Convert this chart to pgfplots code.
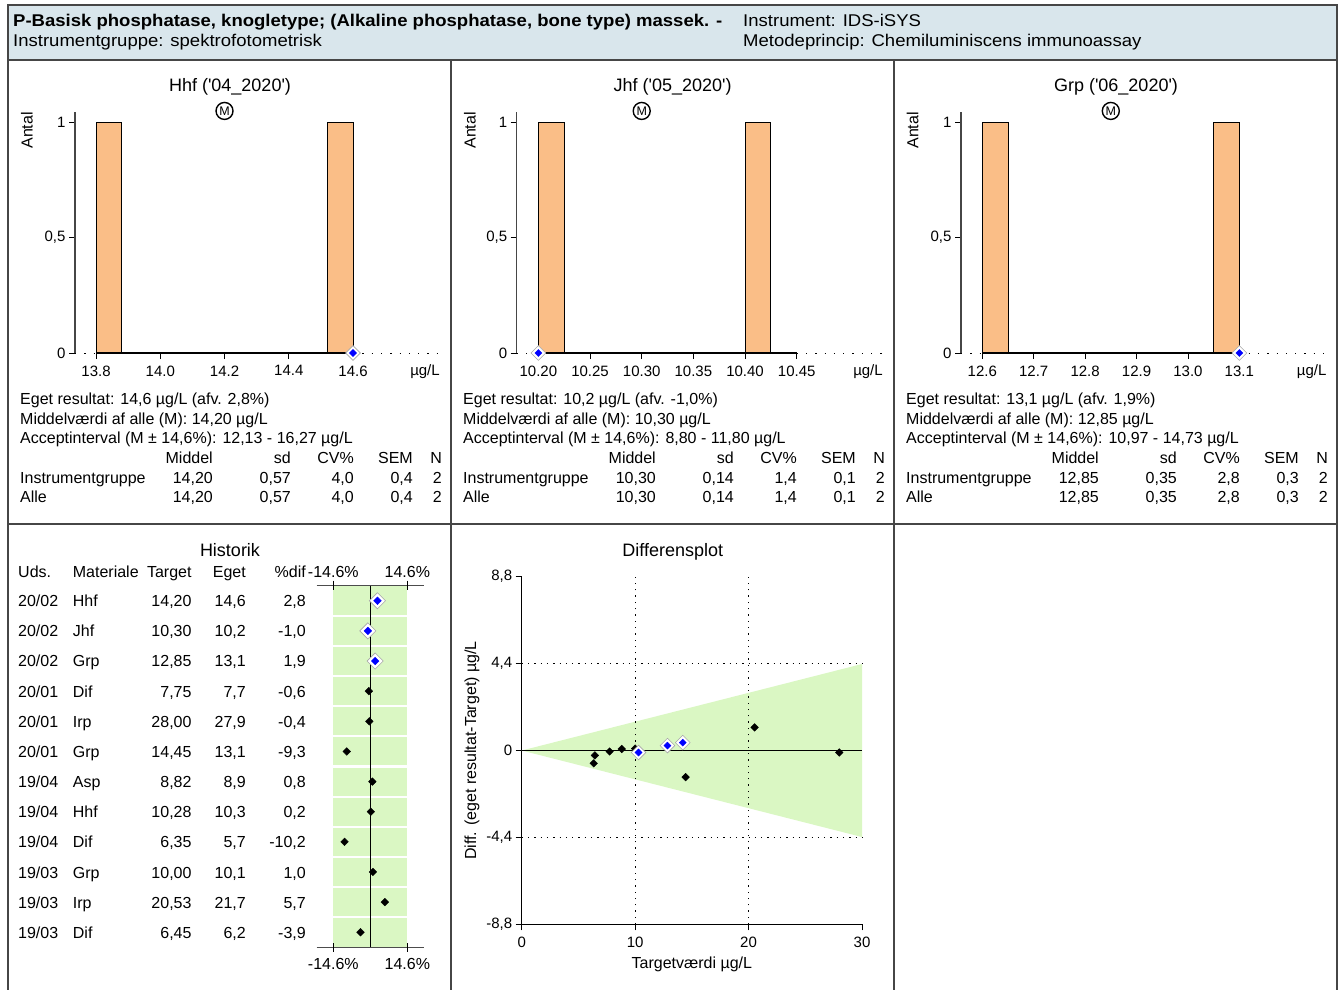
\documentclass[border=0pt]{standalone}
\usepackage{fontspec}
\setmainfont{Liberation Sans}
\newfontfamily\hdrfont[FakeStretch=1.09]{Liberation Sans}
\usepackage{pgfplots}
\pgfplotsset{compat=1.18}
\definecolor{hdr}{RGB}{217,230,236}
\definecolor{barc}{RGB}{250,190,135}
\definecolor{okgreen}{RGB}{218,247,195}
\definecolor{bord}{RGB}{70,70,70}
\definecolor{ownblue}{RGB}{0,0,255}
\newcommand{\txt}{\fontsize{16}{19}\selectfont}
\newcommand{\htxt}{\hdrfont\fontsize{17}{20}\selectfont}
\newcommand{\ttl}{\fontsize{18}{21}\selectfont}
\newcommand{\tck}{\fontsize{15}{15}\selectfont}
\pgfplotsset{
  hist/.style={scale only axis, anchor=south west, clip=false,
    axis lines*=left, axis line style={draw=none},
    tick align=outside, major tick length=6pt, tick style={black, line width=0.8pt},
    ymin=0, ymax=1.043, ytick={0,0.5,1}, yticklabels={0,{0,5},1},
    ticklabel style={font=\tck}, xticklabel style={yshift=-3pt}, height=241pt},
  ownout/.style={only marks, mark=square*, mark size=5.2pt,
    mark options={rotate=45, fill=white, draw=gray!70, line width=0.6pt}},
  ownin/.style={only marks, mark=square*, mark size=2.5pt,
    mark options={rotate=45, fill=ownblue, draw=ownblue}},
  other/.style={only marks, mark=square*, mark size=2.7pt,
    mark options={rotate=45, fill=black, draw=black}},
  barst/.style={fill=barc, draw=black, line width=0.8pt},
}
\newcommand{\stats}[9]{%
\begin{scope}[xshift=#1pt]
\node[anchor=base west,inner sep=0,font=\txt] at (20,404.5) {Eget resultat: #2};
\node[anchor=base west,inner sep=0,font=\txt] at (20,424) {Middelværdi af alle (M): #3};
\node[anchor=base west,inner sep=0,font=\txt] at (20,443.5) {Acceptinterval (M ± 14,6\%): #4};
\node[anchor=base east,inner sep=0,font=\txt] at (213,463.5) {Middel};
\node[anchor=base east,inner sep=0,font=\txt] at (291,463.5) {sd};
\node[anchor=base east,inner sep=0,font=\txt] at (354,463.5) {CV\%};
\node[anchor=base east,inner sep=0,font=\txt] at (413,463.5) {SEM};
\node[anchor=base east,inner sep=0,font=\txt] at (442,463.5) {N};
\foreach \yy/\nm in {483/Instrumentgruppe,502.5/Alle}{
\node[anchor=base west,inner sep=0,font=\txt] at (20,\yy) {\nm};
\node[anchor=base east,inner sep=0,font=\txt] at (213,\yy) {#5};
\node[anchor=base east,inner sep=0,font=\txt] at (291,\yy) {#6};
\node[anchor=base east,inner sep=0,font=\txt] at (354,\yy) {#7};
\node[anchor=base east,inner sep=0,font=\txt] at (413,\yy) {#8};
\node[anchor=base east,inner sep=0,font=\txt] at (442,\yy) {#9};
}
\end{scope}}
\newcommand{\hrow}[6]{%
\node[anchor=base west,inner sep=0,font=\txt] at (18,#1) {#2};
\node[anchor=base west,inner sep=0,font=\txt] at (72.7,#1) {#3};
\node[anchor=base east,inner sep=0,font=\txt] at (191.7,#1) {#4};
\node[anchor=base east,inner sep=0,font=\txt] at (246,#1) {#5};
\node[anchor=base east,inner sep=0,font=\txt] at (306,#1) {#6};}
\newcommand{\mcirc}{\tikz[baseline=(m.base)]\node[circle,draw,line width=1.4pt,inner sep=0pt,minimum size=17pt,font=\fontsize{12.5}{12.5}\selectfont](m){M};}
\begin{document}
\begin{tikzpicture}
\path[use as bounding box] (0,0) rectangle (1341pt,-990pt);
\begin{scope}[x=1pt,y=-1pt]
 % frame
 \fill[hdr] (8,5) rectangle (1337,60);
 \draw[bord, line width=1.3pt] (8,5) rectangle (1337,992);
 \draw[bord, line width=1.3pt] (8,60) -- (1337,60);
 \draw[bord, line width=1.3pt] (451,60) -- (451,992);
 \draw[bord, line width=1.3pt] (894,60) -- (894,992);
 \draw[bord, line width=1.3pt] (8,524) -- (1337,524);
 % header
 \node[anchor=base west,inner sep=0,font=\htxt\bfseries] at (13,27) {P-Basisk phosphatase, knogletype; (Alkaline phosphatase, bone type) massek. -};
 \node[anchor=base west,inner sep=0,font=\htxt] at (13,47) {Instrumentgruppe: spektrofotometrisk};
 \node[anchor=base west,inner sep=0,font=\htxt] at (743,27) {Instrument: IDS-iSYS};
 \node[anchor=base west,inner sep=0,font=\htxt] at (743,47) {Metodeprincip: Chemiluminiscens immunoassay};
 % histogram titles and labels
 \node[anchor=base,inner sep=0,font=\ttl] at (230,91.5) {Hhf (\textquotesingle 04\_2020\textquotesingle)};
 \node[anchor=base,inner sep=0,font=\ttl] at (672.7,91.5) {Jhf (\textquotesingle 05\_2020\textquotesingle)};
 \node[anchor=base,inner sep=0,font=\ttl] at (1116,91.5) {Grp (\textquotesingle 06\_2020\textquotesingle)};
 \node[rotate=90,anchor=east,inner sep=0,font=\txt] at (27,112) {Antal};
 \node[rotate=90,anchor=east,inner sep=0,font=\txt] at (470,112) {Antal};
 \node[rotate=90,anchor=east,inner sep=0,font=\txt] at (912.7,112) {Antal};
 \node[anchor=base,inner sep=0,font=\tck] at (425,375.5) {µg/L};
 \node[anchor=base,inner sep=0,font=\tck] at (868,375.5) {µg/L};
 \node[anchor=base,inner sep=0,font=\tck] at (1311.7,375.5) {µg/L};
 % stats blocks
 \stats{0}{14,6 µg/L (afv. 2,8\%)}{14,20 µg/L}{12,13 - 16,27 µg/L}{14,20}{0,57}{4,0}{0,4}{2}
 \stats{443}{10,2 µg/L (afv. -1,0\%)}{10,30 µg/L}{8,80 - 11,80 µg/L}{10,30}{0,14}{1,4}{0,1}{2}
 \stats{886}{13,1 µg/L (afv. 1,9\%)}{12,85 µg/L}{10,97 - 14,73 µg/L}{12,85}{0,35}{2,8}{0,3}{2}
 % Historik table
 \node[anchor=base,inner sep=0,font=\ttl] at (230,556.5) {Historik};
 \node[anchor=base west,inner sep=0,font=\txt] at (18,577) {Uds.};
 \node[anchor=base west,inner sep=0,font=\txt] at (72.7,577) {Materiale};
 \node[anchor=base east,inner sep=0,font=\txt] at (191.7,577) {Target};
 \node[anchor=base east,inner sep=0,font=\txt] at (246,577) {Eget};
 \node[anchor=base east,inner sep=0,font=\txt] at (306,577) {\%dif};
 \node[anchor=base,inner sep=0,font=\txt] at (333.3,577) {-14.6\%};
 \node[anchor=base,inner sep=0,font=\txt] at (407.3,577) {14.6\%};
 \node[anchor=base,inner sep=0,font=\txt] at (333.3,969) {-14.6\%};
 \node[anchor=base,inner sep=0,font=\txt] at (407.3,969) {14.6\%};
 \hrow{606.5}{20/02}{Hhf}{14,20}{14,6}{2,8}
 \hrow{636.7}{20/02}{Jhf}{10,30}{10,2}{-1,0}
 \hrow{666.9}{20/02}{Grp}{12,85}{13,1}{1,9}
 \hrow{697.0}{20/01}{Dif}{7,75}{7,7}{-0,6}
 \hrow{727.2}{20/01}{Irp}{28,00}{27,9}{-0,4}
 \hrow{757.4}{20/01}{Grp}{14,45}{13,1}{-9,3}
 \hrow{787.6}{19/04}{Asp}{8,82}{8,9}{0,8}
 \hrow{817.8}{19/04}{Hhf}{10,28}{10,3}{0,2}
 \hrow{847.9}{19/04}{Dif}{6,35}{5,7}{-10,2}
 \hrow{878.1}{19/03}{Grp}{10,00}{10,1}{1,0}
 \hrow{908.3}{19/03}{Irp}{20,53}{21,7}{5,7}
 \hrow{938.5}{19/03}{Dif}{6,45}{6,2}{-3,9}
 \node[anchor=base,inner sep=0,font=\ttl] at (672.7,556.5) {Differensplot};
\end{scope}

% ---------- Histogram 1
\begin{axis}[hist, at={(75pt,-353pt)}, width=367pt, xmin=13.7346, xmax=14.877,
  xtick={13.8,14.0,14.2,14.4,14.6}, xticklabels={13.8,14.0,14.2,14.4,14.6}]
\addplot[barst] coordinates {(13.8,0) (13.8,1) (13.88,1) (13.88,0)} --cycle;
\addplot[barst] coordinates {(14.52,0) (14.52,1) (14.6,1) (14.6,0)} --cycle;
\draw[bord, line width=1.3pt] (axis cs:13.7346,0) -- (axis cs:13.7346,1.043);
\draw[black, line width=1.6pt] (axis cs:13.8,0) -- (axis cs:14.6,0);
\draw[black, line width=1pt, dash pattern=on 1.3pt off 8pt] (axis cs:14.6,0) -- (axis cs:14.877,0);
\draw[black, line width=1pt, dash pattern=on 1.3pt off 8pt] (axis cs:13.7346,0) -- (axis cs:13.8,0);
\addplot[ownout] coordinates {(14.6,0)};
\addplot[ownin] coordinates {(14.6,0)};
\node[inner sep=0] at (axis cs:14.2,1.0476) {\mcirc};
\end{axis}

% ---------- Histogram 2
\begin{axis}[hist, at={(516.7pt,-353pt)}, width=368.3pt, xmin=10.179, xmax=10.5355,
  xtick={10.20,10.25,10.30,10.35,10.40,10.45}, xticklabels={10.20,10.25,10.30,10.35,10.40,10.45}]
\addplot[barst] coordinates {(10.20,0) (10.20,1) (10.225,1) (10.225,0)} --cycle;
\addplot[barst] coordinates {(10.40,0) (10.40,1) (10.425,1) (10.425,0)} --cycle;
\draw[bord, line width=1.3pt] (axis cs:10.179,0) -- (axis cs:10.179,1.043);
\draw[black, line width=1.6pt] (axis cs:10.20,0) -- (axis cs:10.45,0);
\draw[black, line width=1pt, dash pattern=on 1.3pt off 8pt] (axis cs:10.45,0) -- (axis cs:10.5355,0);
\draw[black, line width=1pt, dash pattern=on 1.3pt off 8pt] (axis cs:10.179,0) -- (axis cs:10.20,0);
\addplot[ownout] coordinates {(10.20,0)};
\addplot[ownin] coordinates {(10.20,0)};
\node[inner sep=0] at (axis cs:10.30,1.0476) {\mcirc};
\end{axis}

% ---------- Histogram 3
\begin{axis}[hist, at={(961pt,-353pt)}, width=365.7pt, xmin=12.5586, xmax=13.270,
  xtick={12.6,12.7,12.8,12.9,13.0,13.1}, xticklabels={12.6,12.7,12.8,12.9,13.0,13.1}]
\addplot[barst] coordinates {(12.6,0) (12.6,1) (12.65,1) (12.65,0)} --cycle;
\addplot[barst] coordinates {(13.05,0) (13.05,1) (13.1,1) (13.1,0)} --cycle;
\draw[bord, line width=1.3pt] (axis cs:12.5586,0) -- (axis cs:12.5586,1.043);
\draw[black, line width=1.6pt] (axis cs:12.6,0) -- (axis cs:13.1,0);
\draw[black, line width=1pt, dash pattern=on 1.3pt off 8pt] (axis cs:13.1,0) -- (axis cs:13.270,0);
\draw[black, line width=1pt, dash pattern=on 1.3pt off 8pt] (axis cs:12.5586,0) -- (axis cs:12.6,0);
\addplot[ownout] coordinates {(13.1,0)};
\addplot[ownin] coordinates {(13.1,0)};
\node[inner sep=0] at (axis cs:12.85,1.0476) {\mcirc};
\end{axis}

% ---------- Historik strip
\begin{axis}[scale only axis, anchor=south west, at={(316.7pt,-947.3pt)},
  width=107.3pt, height=361.6pt, xmin=-21.17, xmax=21.17, ymin=0.5, ymax=12.5,
  y dir=reverse, hide axis, clip=false]
\fill[okgreen] (axis cs:-14.6,0.5) rectangle (axis cs:14.6,12.5);
\foreach \k in {1.5,2.5,3.5,4.5,5.5,6.5,7.5,8.5,9.5,10.5,11.5}{
  \edef\tmp{\noexpand\draw[white, line width=2.2pt] (axis cs:-14.6,\k) -- (axis cs:14.6,\k);}\tmp}
\draw[gray!60!black, line width=1.5pt] (axis cs:-21.17,0.5) -- (axis cs:21.17,0.5);
\draw[gray!60!black, line width=1.5pt] (axis cs:-21.17,12.5) -- (axis cs:21.17,12.5);
\draw[black, line width=1pt] ([yshift=5pt]axis cs:-14.6,0.5) -- ([yshift=-4pt]axis cs:-14.6,0.5);
\draw[black, line width=1pt] ([yshift=5pt]axis cs:14.6,0.5) -- ([yshift=-4pt]axis cs:14.6,0.5);
\draw[black, line width=1pt] ([yshift=4pt]axis cs:-14.6,12.5) -- ([yshift=-5pt]axis cs:-14.6,12.5);
\draw[black, line width=1pt] ([yshift=4pt]axis cs:14.6,12.5) -- ([yshift=-5pt]axis cs:14.6,12.5);
\draw[black, line width=1.2pt] (axis cs:0,0.5) -- (axis cs:0,12.5);
\addplot[other] coordinates {(-0.6,4) (-0.4,5) (-9.3,6) (0.8,7) (0.2,8) (-10.2,9) (1.0,10) (5.7,11) (-3.9,12)};
\addplot[ownout, mark size=5.7pt] coordinates {(2.8,1) (-1.0,2) (1.9,3)};
\addplot[ownin, mark size=2.7pt] coordinates {(2.8,1) (-1.0,2) (1.9,3)};
\end{axis}

% ---------- Differensplot
\begin{axis}[scale only axis, anchor=south west, at={(521.7pt,-924.3pt)},
  width=340.3pt, height=347.6pt, xmin=0, xmax=30, ymin=-8.8, ymax=8.8,
  axis lines=left, axis line style={-, black, line width=1.2pt},
  tick align=outside, major tick length=6pt, tick style={black, line width=0.8pt},
  xtick={0,10,20,30}, xticklabels={0,10,20,30},
  ytick={-8.8,-4.4,0,4.4,8.8}, yticklabels={{-8,8},{-4,4},0,{4,4},{8,8}},
  ticklabel style={font=\tck}, xticklabel style={yshift=-3pt},
  xlabel={Targetværdi µg/L}, ylabel={Diff. (eget resultat-Target) µg/L},
  label style={font=\txt}, xlabel style={yshift=-3pt}, clip=false]
\addplot[fill=okgreen, draw=none] coordinates {(0,0) (30,4.38) (30,-4.38)} --cycle;
\draw[black, line width=1pt, dash pattern=on 1.3pt off 5pt] (axis cs:10,-8.8) -- (axis cs:10,8.8);
\draw[black, line width=1pt, dash pattern=on 1.3pt off 5pt] (axis cs:20,-8.8) -- (axis cs:20,8.8);
\draw[black, line width=1pt, dash pattern=on 1.3pt off 5pt] (axis cs:0,4.4) -- (axis cs:30,4.4);
\draw[black, line width=1pt, dash pattern=on 1.3pt off 5pt] (axis cs:0,-4.4) -- (axis cs:30,-4.4);
\draw[black, line width=1.2pt] (axis cs:0,0) -- (axis cs:30,0);
\addplot[other] coordinates {(7.75,-0.05) (28.00,-0.1) (14.45,-1.35) (8.82,0.08) (10.28,0.02) (6.35,-0.65) (10.00,0.1) (20.53,1.17) (6.45,-0.25)};
\addplot[ownout] coordinates {(14.20,0.4) (10.30,-0.1) (12.85,0.25)};
\addplot[ownin] coordinates {(14.20,0.4) (10.30,-0.1) (12.85,0.25)};
\end{axis}
\end{tikzpicture}
\end{document}
